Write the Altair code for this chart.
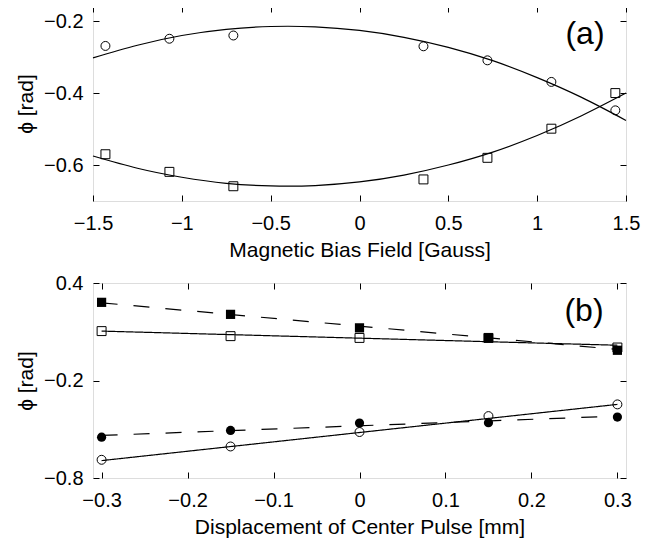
import altair as alt
import pandas as pd

# ---------------- Panel (a) ----------------
a_x = [-1.43, -1.07, -0.71, 0.36, 0.72, 1.08, 1.44]
a_circle = [-0.269, -0.249, -0.240, -0.270, -0.309, -0.369, -0.448]
a_square = [-0.570, -0.619, -0.659, -0.640, -0.580, -0.499, -0.400]
a_fit_x = [-1.5, -1.25, -1.0, -0.75, -0.5, -0.25, 0.0, 0.25, 0.5, 0.75, 1.0, 1.25, 1.5]
a_fit_circle = [-0.302, -0.267, -0.240, -0.223, -0.215, -0.216, -0.226, -0.245, -0.273, -0.310, -0.357, -0.412, -0.476]
a_fit_square = [-0.575, -0.609, -0.634, -0.651, -0.658, -0.657, -0.647, -0.628, -0.600, -0.564, -0.518, -0.463, -0.400]
a_xticks = [-1.5, -1, -0.5, 0, 0.5, 1, 1.5]
a_yticks = [-0.6, -0.4, -0.2]

# ---------------- Panel (b) ----------------
b_x = [-0.3, -0.15, 0.0, 0.15, 0.3]
b_square_open = [0.104, 0.073, 0.062, 0.062, 0.003]
b_square_filled = [0.281, 0.207, 0.124, 0.062, -0.014]
b_circle_open = [-0.688, -0.606, -0.517, -0.419, -0.347]
b_circle_filled = [-0.549, -0.507, -0.462, -0.460, -0.425]
b_fit_x = [-0.3, 0.3]
b_fit_square_solid = [0.104, 0.017]
b_fit_square_dashed = [0.278, -0.009]
b_fit_circle_solid = [-0.693, -0.347]
b_fit_circle_dashed = [-0.538, -0.419]
b_xticks = [-0.3, -0.2, -0.1, 0, 0.1, 0.2, 0.3]
b_yticks = [-0.8, -0.2, 0.4]

FONT = "Liberation Sans"
W, H = 533, 195


def main_axis(orient, title, ticks):
    kw = dict(
        orient=orient, title=title, values=ticks, format="~g",
        offset=-6, tickSize=6, tickColor="black", tickWidth=1,
        domain=False, grid=False, labelFlush=False, labelOverlap=False,
        labelFont=FONT, labelFontSize=20, labelColor="black",
        titleFont=FONT, titleFontSize=21, titleFontWeight="normal", titleColor="black",
    )
    if orient == "bottom":
        kw.update(labelPadding=12, titlePadding=6)
    else:
        kw.update(labelPadding=10, titlePadding=7)
    return alt.Axis(**kw)


def tick_axis(orient, ticks):
    return alt.Axis(orient=orient, title=None, values=ticks, labels=False,
                    offset=-6, tickSize=6, tickColor="black", tickWidth=1,
                    domain=False, grid=False)


# ---- panel a data
a_fit_df = pd.DataFrame({
    "x": a_fit_x + a_fit_x,
    "y": a_fit_circle + a_fit_square,
    "series": ["circle"] * len(a_fit_x) + ["square"] * len(a_fit_x),
})
a_pts_df = pd.DataFrame({
    "x": a_x + a_x,
    "y": a_circle + a_square,
    "shape": ["circle"] * len(a_x) + ["square"] * len(a_x),
})

ax_scale = alt.Scale(domain=[-1.5, 1.5], nice=False, zero=False)
ay_scale = alt.Scale(domain=[-0.7, -0.158], nice=False, zero=False)

a_lines = alt.Chart(a_fit_df).mark_line(color="black", strokeWidth=1.2, interpolate="natural").encode(
    x=alt.X("x:Q", scale=ax_scale, axis=main_axis("bottom", "Magnetic Bias Field [Gauss]", a_xticks)),
    y=alt.Y("y:Q", scale=ay_scale, axis=main_axis("left", "ϕ [rad]", a_yticks)),
    detail="series:N",
)
a_points = alt.Chart(a_pts_df).mark_point(filled=False, color="black", size=80, strokeWidth=1, opacity=1).encode(
    x=alt.X("x:Q", scale=ax_scale, axis=tick_axis("top", a_xticks)),
    y=alt.Y("y:Q", scale=ay_scale, axis=tick_axis("right", a_yticks)),
    shape=alt.Shape("shape:N", scale=alt.Scale(domain=["circle", "square"], range=["circle", "square"]), legend=None),
)
a_label = alt.Chart(alt.Data(values=[{"t": "(a)"}])).mark_text(
    font=FONT, fontSize=32, align="center", baseline="middle", color="black"
).encode(text="t:N", x=alt.value(492), y=alt.value(28))

panel_a = alt.layer(a_lines, a_points, a_label).resolve_axis(x="independent", y="independent").properties(width=W, height=H)

# ---- panel b data
b_fit_df = pd.DataFrame({
    "x": b_fit_x * 4,
    "y": b_fit_square_solid + b_fit_square_dashed + b_fit_circle_solid + b_fit_circle_dashed,
    "series": ["sq_s"] * 2 + ["sq_d"] * 2 + ["ci_s"] * 2 + ["ci_d"] * 2,
    "style": ["solid"] * 2 + ["dashed"] * 2 + ["solid"] * 2 + ["dashed"] * 2,
})
b_open_df = pd.DataFrame({
    "x": b_x + b_x,
    "y": b_square_open + b_circle_open,
    "shape": ["square"] * len(b_x) + ["circle"] * len(b_x),
})
b_filled_df = pd.DataFrame({
    "x": b_x + b_x,
    "y": b_square_filled + b_circle_filled,
    "shape": ["square"] * len(b_x) + ["circle"] * len(b_x),
})

bx_scale = alt.Scale(domain=[-0.31, 0.31], nice=False, zero=False)
by_scale = alt.Scale(domain=[-0.8, 0.4], nice=False, zero=False)
shape_scale = alt.Scale(domain=["circle", "square"], range=["circle", "square"])

b_lines = alt.Chart(b_fit_df).mark_line(color="black", strokeWidth=1.2).encode(
    x=alt.X("x:Q", scale=bx_scale, axis=main_axis("bottom", "Displacement of Center Pulse [mm]", b_xticks)),
    y=alt.Y("y:Q", scale=by_scale, axis=main_axis("left", "ϕ [rad]", b_yticks)),
    detail="series:N",
    strokeDash=alt.StrokeDash("style:N", scale=alt.Scale(domain=["solid", "dashed"], range=[[1, 0], [16, 16]]), legend=None),
)
b_open = alt.Chart(b_open_df).mark_point(filled=False, color="black", size=80, strokeWidth=1, opacity=1).encode(
    x=alt.X("x:Q", scale=bx_scale, axis=tick_axis("top", b_xticks)),
    y=alt.Y("y:Q", scale=by_scale, axis=tick_axis("right", b_yticks)),
    shape=alt.Shape("shape:N", scale=shape_scale, legend=None),
)
b_filled = alt.Chart(b_filled_df).mark_point(filled=True, color="black", size=85, opacity=1).encode(
    x=alt.X("x:Q", scale=bx_scale, axis=None),
    y=alt.Y("y:Q", scale=by_scale, axis=None),
    shape=alt.Shape("shape:N", scale=shape_scale, legend=None),
)
b_label = alt.Chart(alt.Data(values=[{"t": "(b)"}])).mark_text(
    font=FONT, fontSize=32, align="center", baseline="middle", color="black"
).encode(text="t:N", x=alt.value(491), y=alt.value(28))

panel_b = alt.layer(b_lines, b_open, b_filled, b_label).resolve_axis(x="independent", y="independent").properties(width=W, height=H)

chart = alt.vconcat(panel_a, panel_b, spacing=11).properties(
    padding={"left": 7, "top": -3, "right": 5, "bottom": 5}
).configure_view(stroke="black", strokeWidth=1).configure(background="white")

chart.save("out.html", embed_options={"renderer": "svg", "actions": False})
